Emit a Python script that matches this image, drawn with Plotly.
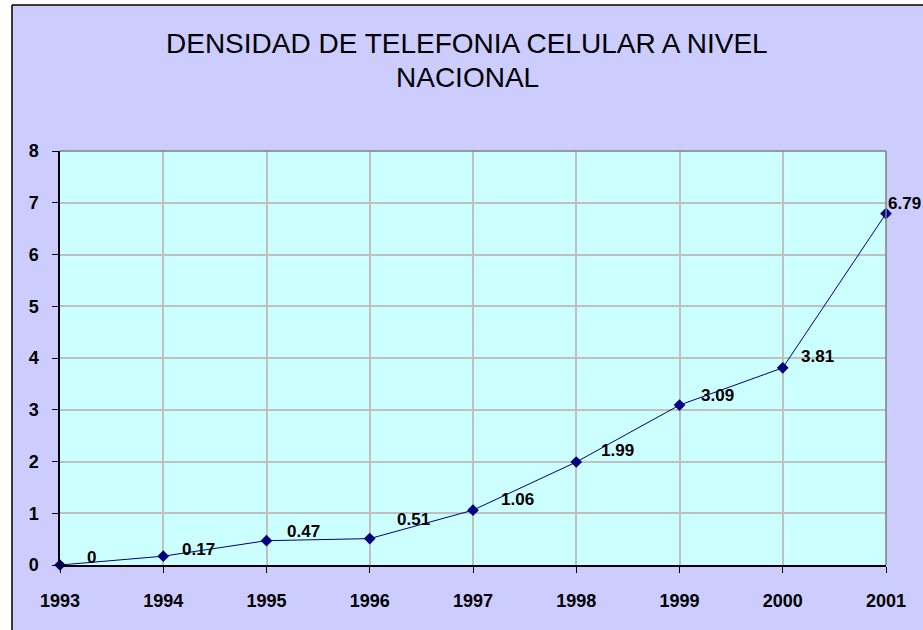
import plotly.graph_objects as go

years = [1993, 1994, 1995, 1996, 1997, 1998, 1999, 2000, 2001]
density = [0, 0.17, 0.47, 0.51, 1.06, 1.99, 3.09, 3.81, 6.79]
labels = ["0", "0.17", "0.47", "0.51", "1.06", "1.99", "3.09", "3.81", "6.79"]
y_ticks = [0, 1, 2, 3, 4, 5, 6, 7, 8]
title_lines = ["DENSIDAD DE TELEFONIA CELULAR A NIVEL", "NACIONAL"]

# label offsets in pixels (style only)
label_dx = [31, 35, 37, 44, 44, 41, 38, 35, 18]
label_dy = [8, 7, 9, 19, 11, 12, 10, 11, 10]

FONT = "Liberation Sans, Arial, sans-serif"

fig = go.Figure()
fig.add_trace(go.Scatter(
    x=years, y=density, mode="lines+markers",
    line=dict(color="#000080", width=1),
    marker=dict(symbol="diamond", size=9, color="#000080"),
    showlegend=False, hoverinfo="x+y", cliponaxis=False,
))

for xv, yv, t, dx, dy in zip(years, density, labels, label_dx, label_dy):
    fig.add_annotation(x=xv, y=yv, text="<b>%s</b>" % t, showarrow=False,
                       xshift=dx, yshift=dy, font=dict(family=FONT, size=17, color="black"))

W, H = 923, 630
L, R, T, B = 60, 37, 151, 65
pw, ph = W - L - R, H - T - B

def px_x(p):
    return (p - L) / pw

def px_y(p):
    return (H - B - p) / ph

# title lines
for line, ypix in zip(title_lines, [44, 77]):
    fig.add_annotation(xref="paper", yref="paper", x=px_x(467), y=px_y(ypix),
                       xanchor="center", yanchor="middle", showarrow=False,
                       text=line, font=dict(family=FONT, size=28, color="black"))

# white strips outside the chart frame, and the frame lines
fx0 = px_x(12)
fy1 = px_y(5)
fig.add_shape(type="rect", xref="paper", yref="paper", x0=-1, x1=fx0, y0=-1, y1=3,
              fillcolor="white", line=dict(width=0), layer="below")
fig.add_shape(type="rect", xref="paper", yref="paper", x0=-1, x1=3, y0=fy1, y1=3,
              fillcolor="white", line=dict(width=0), layer="below")
fig.add_shape(type="line", xref="paper", yref="paper", x0=fx0, x1=fx0, y0=-1, y1=fy1,
              line=dict(color="black", width=1.5))
fig.add_shape(type="line", xref="paper", yref="paper", x0=fx0, x1=3, y0=fy1, y1=fy1,
              line=dict(color="black", width=1.5))
# gray top/right plot border
fig.add_shape(type="line", xref="paper", yref="paper", x0=0, x1=1, y0=1, y1=1,
              line=dict(color="#808080", width=1.5))
fig.add_shape(type="line", xref="paper", yref="paper", x0=1, x1=1, y0=0, y1=1,
              line=dict(color="#808080", width=1.5))

fig.update_layout(
    width=W, height=H,
    margin=dict(l=L, r=R, t=T, b=B),
    paper_bgcolor="#CCCCFF",
    plot_bgcolor="#CCFFFF",
    xaxis=dict(range=[1993, 2001], tickmode="array", tickvals=years,
               ticktext=["<b>%d</b>" % y for y in years],
               showgrid=True, gridcolor="#C0C0C0", gridwidth=1.5,
               showline=True, linecolor="black", linewidth=1.5,
               ticks="outside", ticklen=6, tickcolor="black",
               tickfont=dict(family=FONT, size=18, color="black"),
               ticklabelstandoff=13, zeroline=False, fixedrange=True),
    yaxis=dict(range=[0, 8], tickmode="array", tickvals=y_ticks,
               ticktext=["<b>%d</b>" % v for v in y_ticks],
               showgrid=True, gridcolor="#C0C0C0", gridwidth=1.5,
               showline=True, linecolor="black", linewidth=1.5,
               ticks="outside", ticklen=6, tickcolor="black",
               tickfont=dict(family=FONT, size=18, color="black"),
               ticklabelstandoff=10, zeroline=False, fixedrange=True),
)

fig.write_html("out.html", config={"displayModeBar": False},
               post_script="document.body.style.margin='0';document.body.style.overflow='hidden';")
